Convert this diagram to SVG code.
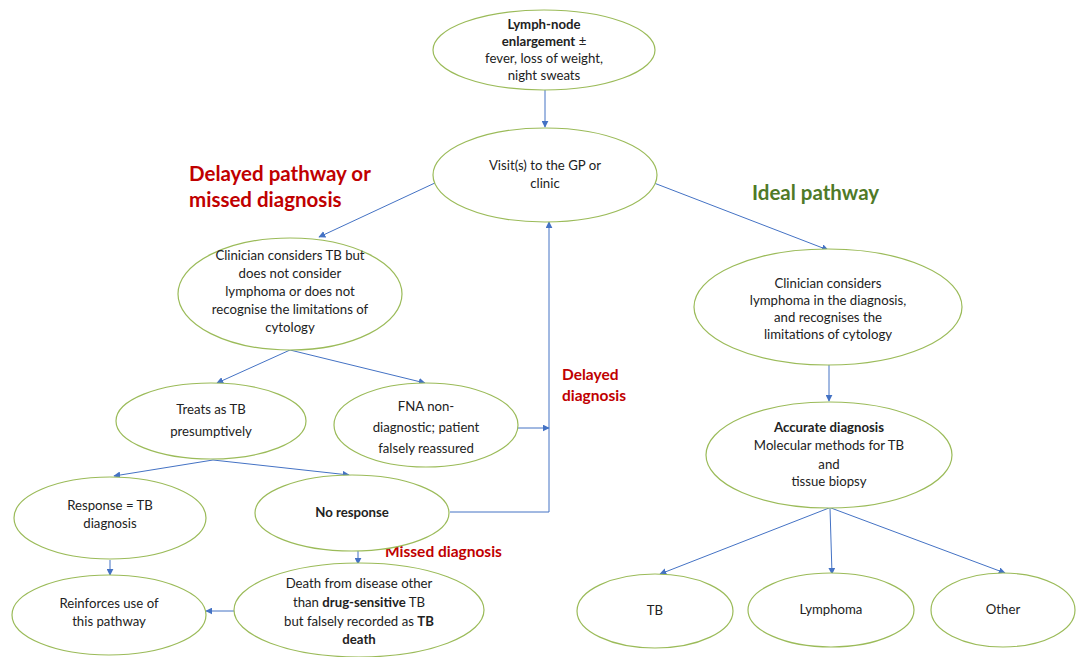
<svg xmlns="http://www.w3.org/2000/svg" width="1076" height="657" viewBox="0 0 1076 657">
  <defs>
    <marker id="arrow" viewBox="0 0 10 10" refX="9" refY="5" markerWidth="7" markerHeight="7" markerUnits="userSpaceOnUse" orient="auto">
      <path d="M0,0 L10,5 L0,10 z" fill="#4472c4"/>
    </marker>
    <style>
      .node ellipse { fill: #ffffff; stroke: #9bbb59; stroke-width: 1.2; }
      .node text { font-family: Lato, "Open Sans", "Liberation Sans", sans-serif; font-size: 13.2px; fill: #222222; text-anchor: middle; }
      .b { font-weight: bold; }
      .edges line, .edges polyline { stroke: #4472c4; stroke-width: 1; fill: none; }
      .red { font-family: Lato, "Open Sans", "Liberation Sans", sans-serif; font-weight: bold; fill: #c00000; }
      .green { font-family: Lato, "Open Sans", "Liberation Sans", sans-serif; font-weight: bold; fill: #4f7a28; }
    </style>
  </defs>
  <rect width="1076" height="657" fill="#ffffff"/>

  <!-- connectors -->
  <g class="edges">
    <line x1="545" y1="89" x2="545" y2="127" marker-end="url(#arrow)"/>
    <line x1="437" y1="182" x2="319" y2="237" marker-end="url(#arrow)"/>
    <line x1="654" y1="183" x2="828" y2="250" marker-end="url(#arrow)"/>
    <line x1="290" y1="350" x2="217" y2="383" marker-end="url(#arrow)"/>
    <line x1="290" y1="350" x2="425" y2="383" marker-end="url(#arrow)"/>
    <line x1="518" y1="428" x2="549" y2="428" marker-end="url(#arrow)"/>
    <polyline points="450,512 549,512 549,222" marker-end="url(#arrow)"/>
    <line x1="213" y1="460" x2="114" y2="476" marker-end="url(#arrow)"/>
    <line x1="213" y1="460" x2="349" y2="475" marker-end="url(#arrow)"/>
    <line x1="110" y1="560" x2="110" y2="575" marker-end="url(#arrow)"/>
    <line x1="358" y1="551" x2="358" y2="564" marker-end="url(#arrow)"/>
    <line x1="235" y1="611" x2="206" y2="611" marker-end="url(#arrow)"/>
    <line x1="829" y1="365" x2="829" y2="401" marker-end="url(#arrow)"/>
    <line x1="829" y1="508" x2="660" y2="574" marker-end="url(#arrow)"/>
    <line x1="830" y1="508" x2="832" y2="574" marker-end="url(#arrow)"/>
    <line x1="831" y1="508" x2="1005" y2="573" marker-end="url(#arrow)"/>
  </g>

  <!-- section headings -->
  <text class="red" x="189" y="181" font-size="20.5">Delayed pathway or</text>
  <text class="red" x="189" y="207" font-size="20.5">missed diagnosis</text>
  <text class="green" x="752" y="200" font-size="20.5">Ideal pathway</text>
  <text class="red" x="562" y="380" font-size="15.5">Delayed</text>
  <text class="red" x="562" y="401" font-size="15.5">diagnosis</text>
  <text class="red" x="385" y="557" font-size="15.5">Missed diagnosis</text>

  <g id="symptoms" class="node">
    <ellipse cx="544" cy="50" rx="111" ry="40"/>
    <text x="544" y="29" class="b">Lymph-node</text>
    <text x="544" y="46"><tspan class="b">enlargement</tspan> ±</text>
    <text x="544" y="63">fever, loss of weight,</text>
    <text x="544" y="80">night sweats</text>
  </g>

  <g id="gp-visit" class="node">
    <ellipse cx="545" cy="175" rx="112" ry="47"/>
    <text x="545" y="170">Visit(s) to the GP or</text>
    <text x="545" y="188">clinic</text>
  </g>

  <g id="considers-tb" class="node">
    <ellipse cx="290" cy="294" rx="112" ry="56"/>
    <text x="290" y="260">Clinician considers TB but</text>
    <text x="290" y="278">does not consider</text>
    <text x="290" y="296">lymphoma or does not</text>
    <text x="290" y="314">recognise the limitations of</text>
    <text x="290" y="332">cytology</text>
  </g>

  <g id="considers-lymphoma" class="node">
    <ellipse cx="828" cy="307" rx="134" ry="58"/>
    <text x="828" y="288">Clinician considers</text>
    <text x="828" y="305">lymphoma in the diagnosis,</text>
    <text x="828" y="322">and recognises the</text>
    <text x="828" y="339">limitations of cytology</text>
  </g>

  <g id="treats-tb" class="node">
    <ellipse cx="211" cy="421" rx="95" ry="38"/>
    <text x="211" y="414">Treats as TB</text>
    <text x="211" y="436">presumptively</text>
  </g>

  <g id="fna" class="node">
    <ellipse cx="426" cy="425" rx="92" ry="42"/>
    <text x="426" y="411">FNA non-</text>
    <text x="426" y="432">diagnostic; patient</text>
    <text x="426" y="453">falsely reassured</text>
  </g>

  <g id="response" class="node">
    <ellipse cx="110" cy="518" rx="96" ry="41"/>
    <text x="110" y="510">Response = TB</text>
    <text x="110" y="528">diagnosis</text>
  </g>

  <g id="no-response" class="node">
    <ellipse cx="352" cy="513" rx="97" ry="38"/>
    <text x="352" y="517" class="b">No response</text>
  </g>

  <g id="reinforces" class="node">
    <ellipse cx="109" cy="615" rx="97" ry="40"/>
    <text x="109" y="608">Reinforces use of</text>
    <text x="109" y="626">this pathway</text>
  </g>

  <g id="death" class="node">
    <ellipse cx="359" cy="610" rx="125" ry="47"/>
    <text x="359" y="588">Death from disease other</text>
    <text x="359" y="607">than <tspan class="b">drug-sensitive</tspan> TB</text>
    <text x="359" y="626">but falsely recorded as <tspan class="b">TB</tspan></text>
    <text x="359" y="644" class="b">death</text>
  </g>

  <g id="accurate" class="node">
    <ellipse cx="829" cy="455" rx="123" ry="53"/>
    <text x="829" y="432" class="b">Accurate diagnosis</text>
    <text x="829" y="450">Molecular methods for TB</text>
    <text x="829" y="469">and</text>
    <text x="829" y="486">tissue biopsy</text>
  </g>

  <g id="tb" class="node">
    <ellipse cx="655" cy="611" rx="78" ry="37"/>
    <text x="655" y="615">TB</text>
  </g>

  <g id="lymphoma" class="node">
    <ellipse cx="831" cy="610" rx="83" ry="37"/>
    <text x="831" y="614">Lymphoma</text>
  </g>

  <g id="other" class="node">
    <ellipse cx="1003" cy="610" rx="72" ry="37"/>
    <text x="1003" y="614">Other</text>
  </g>
</svg>
